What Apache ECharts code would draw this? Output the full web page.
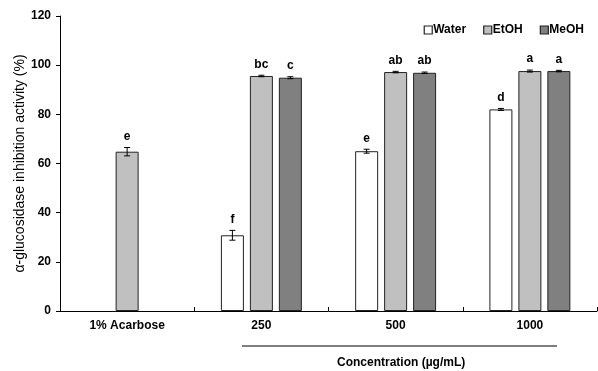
<!DOCTYPE html>
<html>
<head>
<meta charset="utf-8">
<script src="https://cdn.jsdelivr.net/npm/echarts@6/dist/echarts.min.js"></script>
<style>
html, body { margin: 0; padding: 0; background: #fff; }
#main { width: 598px; height: 371px; }
</style>
</head>
<body>
<div id="main"></div>
<script>
// 데이터
const categories = ['1% Acarbose', '250', '500', '1000'];
const seriesNames = ['Water', 'EtOH', 'MeOH'];
const waterVals = [null, 30.8, 65.0, 82.0];
const etohVals = [64.8, 95.6, 97.2, 97.6];
const meohVals = [null, 94.9, 96.9, 97.6];
const waterErr = [null, 2.0, 0.8, 0.4];
const etohErr = [1.7, 0.3, 0.3, 0.4];
const meohErr = [null, 0.4, 0.3, 0.3];
const waterSig = ['', 'f', 'e', 'd'];
const etohSig = ['e', 'bc', 'ab', 'a'];
const meohSig = ['', 'c', 'ab', 'a'];
const yTicks = [0, 20, 40, 60, 80, 100, 120];

const colors = ['#FFFFFF', '#C0C0C0', '#808080'];
const allVals = [waterVals, etohVals, meohVals];
const allErr = [waterErr, etohErr, meohErr];
const allSig = [waterSig, etohSig, meohSig];

const BAR_W = 23;
const BAR_GAP = '26%';

const chart = echarts.init(document.getElementById('main'), null, { renderer: 'canvas' });

const font = 'Liberation Sans, Arial, sans-serif';

// 에러바 + 유의성 문자
function errSeries(idx) {
	const data = categories.map((c, i) => [i, allVals[idx][i], allErr[idx][i], allSig[idx][i]])
		.filter(d => d[1] != null);
	return {
		type: 'custom',
		name: seriesNames[idx] + '_err',
		z: 5,
		data: data,
		renderItem: function (params, api) {
			const ci = api.value(0);
			const v = api.value(1);
			const e = api.value(2);
			const layout = api.barLayout({ count: 3, barWidth: BAR_W, barGap: BAR_GAP });
			const off = layout[idx].offsetCenter;
			const base = api.coord([ci, v]);
			const x = base[0] + off;
			const hi = api.coord([ci, v + e])[1];
			const lo = api.coord([ci, v - e])[1];
			const st = { stroke: '#000', lineWidth: 1 };
			const label = data[params.dataIndex][3];
			return {
				type: 'group',
				children: [
					{ type: 'line', shape: { x1: x, y1: hi, x2: x, y2: lo }, style: st },
					{ type: 'line', shape: { x1: x - 3, y1: hi, x2: x + 3, y2: hi }, style: st },
					{ type: 'line', shape: { x1: x - 3, y1: lo, x2: x + 3, y2: lo }, style: st },
					{
						type: 'text',
						style: {
							x: x, y: hi - 5, text: label,
							fill: '#000', font: 'bold 12px ' + font,
							textAlign: 'center', textVerticalAlign: 'bottom'
						}
					}
				]
			};
		}
	};
}

const barSeries = seriesNames.map((n, idx) => ({
	name: n,
	type: 'bar',
	data: allVals[idx],
	barWidth: BAR_W,
	barGap: BAR_GAP,
	itemStyle: { color: colors[idx], borderColor: '#222', borderWidth: 1 }
}));

const option = {
	animation: false,
	textStyle: { fontFamily: font },
	legend: {
		data: seriesNames,
		right: 9,
		top: 19,
		itemWidth: 8,
		itemHeight: 8,
		itemGap: 17,
		icon: 'rect',
		itemStyle: { borderColor: '#222', borderWidth: 1.2 },
		textStyle: { fontSize: 12, fontWeight: 'bold', color: '#000', padding: [0, 0, 0, -4] }
	},
	grid: { left: 60, right: 1, top: 16, bottom: 60 },
	xAxis: {
		type: 'category',
		data: categories,
		axisLine: { lineStyle: { color: '#000', width: 1 } },
		axisTick: { show: true, inside: true, length: 4, interval: 0, lineStyle: { color: '#000' } },
		axisLabel: { fontSize: 12, fontWeight: 'bold', color: '#000', margin: 9, interval: 0 }
	},
	yAxis: {
		type: 'value',
		min: 0,
		max: 120,
		interval: 20,
		name: 'α-glucosidase inhibition activity (%)',
		nameLocation: 'middle',
		nameGap: 33,
		nameMoveOverlap: false,
		nameTextStyle: { fontSize: 14, color: '#000' },
		axisLine: { show: true, lineStyle: { color: '#000', width: 1 } },
		axisTick: { show: true, length: 4, lineStyle: { color: '#000' } },
		axisLabel: { fontSize: 12, fontWeight: 'bold', color: '#000', margin: 9,
			formatter: v => yTicks.includes(v) ? String(v) : '' },
		splitLine: { show: false }
	},
	graphic: [
		{ type: 'line', shape: { x1: 242, y1: 346, x2: 557, y2: 346 }, style: { stroke: '#000', lineWidth: 1 } },
		{
			type: 'text', left: 337, top: 357,
			style: { text: 'Concentration (µg/mL)', font: 'bold 12px ' + font, fill: '#000' }
		}
	],
	series: barSeries.concat([errSeries(0), errSeries(1), errSeries(2)])
};

chart.setOption(option);
</script>
</body>
</html>
